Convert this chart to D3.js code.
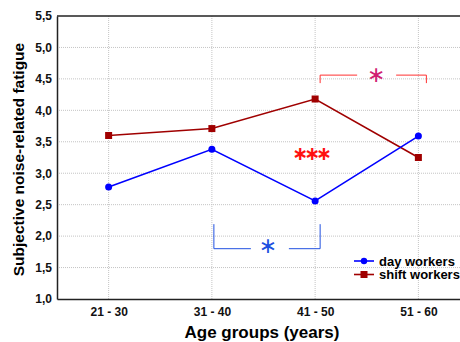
<!DOCTYPE html>
<meta charset="utf-8">
<style>
body { margin: 0; background: #fff; font-family: 'Liberation Sans', Arial, sans-serif; }
.grid line { stroke: #c4c4c4; stroke-dasharray: 1,1; }
.tick text { font-weight: bold; font-size: 12px; fill: #111; }
</style>
<body>
<div id="chart"></div>
<script src="https://d3js.org/d3.v7.min.js"></script>
<script>

// data
var ageGroups = ["21 - 30", "31 - 40", "41 - 50", "51 - 60"];
var dayWorkers = [2.78, 3.38, 2.56, 3.59];
var shiftWorkers = [3.60, 3.71, 4.18, 3.25];
var yTicks = [1.0, 1.5, 2.0, 2.5, 3.0, 3.5, 4.0, 4.5, 5.0, 5.5];

var W = 460, H = 342;
var margin = { top: 16, right: -10, bottom: 43, left: 57 };
var width = W - margin.left - margin.right;
var height = H - margin.top - margin.bottom;

var svg = d3.select("#chart").append("svg")
  .attr("width", W)
  .attr("height", H);

var g = svg.append("g")
  .attr("transform", "translate(" + margin.left + "," + margin.top + ")");

var x = d3.scalePoint()
  .domain(ageGroups)
  .range([0, width])
  .padding(0.5);

var y = d3.scaleLinear()
  .domain([1, 5.5])
  .range([height, 0]);

var fmt = function(d) { return d3.format(".1f")(d).replace(".", ","); };

// gridlines
g.append("g").attr("class", "grid")
  .selectAll("line").data(yTicks.slice(1, -1)).enter().append("line")
    .attr("x1", 0).attr("x2", width)
    .attr("y1", function(d) { return y(d); })
    .attr("y2", function(d) { return y(d); });
g.append("g").attr("class", "grid")
  .selectAll("line").data(ageGroups).enter().append("line")
    .attr("x1", function(d) { return x(d); })
    .attr("x2", function(d) { return x(d); })
    .attr("y1", 0).attr("y2", height);

// axes
var yAxis = g.append("g")
  .call(d3.axisLeft(y).tickValues(yTicks).tickFormat(fmt).tickSize(0).tickPadding(5));
yAxis.select(".domain").attr("stroke", "#222").attr("stroke-width", 1.5);

var xAxis = g.append("g")
  .attr("transform", "translate(0," + height + ")")
  .call(d3.axisBottom(x).tickSize(0).tickPadding(8));
xAxis.select(".domain").attr("stroke", "#222").attr("stroke-width", 1.5);

g.append("line")
  .attr("x1", 0).attr("x2", width)
  .attr("y1", 0).attr("y2", 0)
  .attr("stroke", "#222").attr("stroke-width", 1.5);

// axis titles
svg.append("text")
  .attr("x", 262)
  .attr("y", 338)
  .attr("text-anchor", "middle")
  .style("font-weight", "bold")
  .style("font-size", "17px")
  .text("Age groups (years)");

svg.append("text")
  .attr("transform", "translate(24," + (margin.top + height / 2 + 2) + ") rotate(-90)")
  .attr("text-anchor", "middle")
  .style("font-weight", "bold")
  .style("font-size", "15.5px")
  .text("Subjective noise-related fatigue");

// lines
var line = d3.line()
  .x(function(d, i) { return x(ageGroups[i]); })
  .y(function(d) { return y(d); });

g.append("path").datum(shiftWorkers)
  .attr("fill", "none").attr("stroke", "#a00000").attr("stroke-width", 1.6)
  .attr("d", line);
g.append("path").datum(dayWorkers)
  .attr("fill", "none").attr("stroke", "#0000ff").attr("stroke-width", 1.6)
  .attr("d", line);

g.selectAll(".sq").data(shiftWorkers).enter().append("rect")
  .attr("x", function(d, i) { return x(ageGroups[i]) - 3.5; })
  .attr("y", function(d) { return y(d) - 3.5; })
  .attr("width", 7).attr("height", 7)
  .attr("fill", "#a00000");
g.selectAll(".dot").data(dayWorkers).enter().append("circle")
  .attr("cx", function(d, i) { return x(ageGroups[i]); })
  .attr("cy", function(d) { return y(d); })
  .attr("r", 3.5)
  .attr("fill", "#0000ff");

// significance brackets
var bx1 = x(ageGroups[2]) + 5, bx2 = x(ageGroups[3]) + 8, by = y(4.56);
g.append("path")
  .attr("d", "M" + bx1 + "," + (by + 8) + "V" + by + "H" + (bx1 + 37) +
    "M" + (bx1 + 76) + "," + by + "H" + bx2 + "V" + (by + 8))
  .attr("fill", "none").attr("stroke", "#ff3030").attr("stroke-width", 1);
g.append("text")
  .attr("x", (bx1 + bx2) / 2 + 3).attr("y", by - 1)
  .attr("text-anchor", "middle")
  .attr("dominant-baseline", "central")
  .style("font-family", "DejaVu Sans").style("font-size", "22px")
  .attr("fill", "#d02070")
  .text("\u2217");

var cx1 = x(ageGroups[1]) + 2, cx2 = x(ageGroups[2]) + 5, cy = y(2.19), cyb = y(1.8);
g.append("path")
  .attr("d", "M" + cx1 + "," + cy + "V" + cyb + "H" + (cx1 + 37) +
    "M" + (cx1 + 75) + "," + cyb + "H" + cx2 + "V" + cy)
  .attr("fill", "none").attr("stroke", "#2050e0").attr("stroke-width", 1);
g.append("text")
  .attr("x", (cx1 + cx2) / 2 + 1).attr("y", cyb - 3)
  .attr("text-anchor", "middle")
  .attr("dominant-baseline", "central")
  .style("font-family", "DejaVu Sans").style("font-size", "22px")
  .attr("fill", "#2050e0")
  .text("\u2217");

g.append("text")
  .attr("x", x(ageGroups[2]) - 5).attr("y", y(3.32))
  .attr("text-anchor", "middle")
  .attr("dominant-baseline", "central")
  .style("font-family", "DejaVu Sans")
  .style("font-weight", "bold").style("font-size", "19px")
  .style("letter-spacing", "-4px")
  .attr("fill", "#ff1010")
  .text("\u2217\u2217\u2217");

// legend
var legendNames = ["day workers", "shift workers"];
var legendColors = ["#0000ff", "#a00000"];
var legend = svg.append("g").attr("transform", "translate(354,261)");
legendNames.forEach(function(name, i) {
  var row = legend.append("g").attr("transform", "translate(0," + i * 13.5 + ")");
  row.append("line").attr("x1", 0).attr("x2", 20).attr("y1", 0).attr("y2", 0)
    .attr("stroke", legendColors[i]).attr("stroke-width", 1.6);
  if (i == 0) {
    row.append("circle").attr("cx", 10).attr("cy", 0).attr("r", 3.2).attr("fill", legendColors[i]);
  } else {
    row.append("rect").attr("x", 6.5).attr("y", -3.5).attr("width", 7).attr("height", 7).attr("fill", legendColors[i]);
  }
  row.append("text").attr("x", 25).attr("y", 4.5)
    .style("font-weight", "bold").style("font-size", "13px")
    .text(name);
});

</script>
</body>
